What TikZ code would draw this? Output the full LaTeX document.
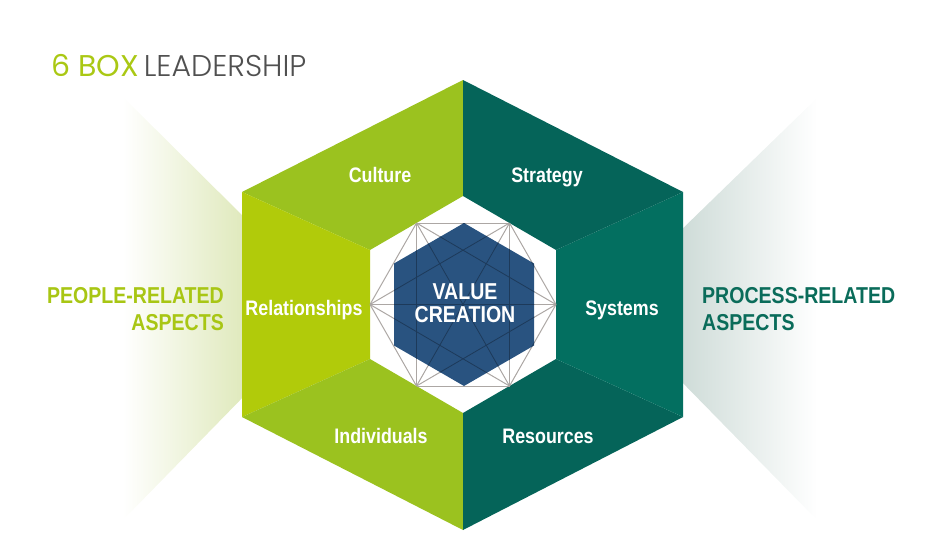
\documentclass[tikz,border=0pt]{standalone}
\usepackage{fontspec}
\usetikzlibrary{calc}
\setmainfont{Liberation Sans}
\newfontfamily\boxfont[FakeStretch=0.85]{Liberation Sans}
\newfontfamily\titlefont{Poppins}
\newfontfamily\titlethin{Poppins Light}

\definecolor{limegreen}{RGB}{155,194,31}
\definecolor{lightlime}{RGB}{177,203,10}
\definecolor{darkteal}{RGB}{5,100,89}
\definecolor{midteal}{RGB}{3,111,96}
\definecolor{valueblue}{RGB}{41,83,128}
\definecolor{webgray}{RGB}{172,167,164}
\definecolor{peoplegreen}{RGB}{168,198,20}
\definecolor{processgreen}{RGB}{10,108,90}
\definecolor{titlegreen}{RGB}{170,200,20}
\definecolor{titlegray}{RGB}{80,80,80}

\tikzset{
  segtext/.style={text=white, inner sep=0pt, font=\boxfont\bfseries\fontsize{21}{21}\selectfont},
  aspecttext/.style={inner sep=0pt, font=\boxfont\bfseries\fontsize{23}{27}\selectfont},
  webline/.style={webgray, line width=1pt}
}

\begin{document}
\begin{tikzpicture}[x=1pt, y=-1pt]
        \useasboundingbox (0,0) rectangle (943,557);

        % title
        \node[anchor=base west, inner sep=0pt] (title) at (51,76)
            {\fontsize{30}{30}\selectfont\titlefont\color{titlegreen}6~BOX\,\titlethin\color{titlegray}LEADERSHIP};

        % fading side wedges
        \shade[left color=white, right color={rgb,255:red,222;green,232;blue,185}]
            (123,97) -- (250,223) -- (250,390) -- (123,520) -- cycle;
        \shade[left color={rgb,255:red,204;green,218;blue,214}, right color=white]
            (675,236) -- (817,98) -- (817,520) -- (675,375) -- cycle;

        % outer and inner hexagon corners
        \coordinate (o1) at (463,80);
        \coordinate (o2) at (242,192);
        \coordinate (o3) at (242,417);
        \coordinate (o4) at (463,530);
        \coordinate (o5) at (683,417);
        \coordinate (o6) at (683,192);
        \coordinate (i1) at (463,196);
        \coordinate (i2) at (370,250);
        \coordinate (i3) at (370,359);
        \coordinate (i4) at (463,413);
        \coordinate (i5) at (556,359);
        \coordinate (i6) at (556,250);

        \foreach \k/\n/\c in {1/2/limegreen, 2/3/lightlime, 3/4/limegreen,
                              4/5/darkteal, 5/6/midteal, 6/1/darkteal} {
            \fill[\c] (o\k) -- (o\n) -- (i\n) -- (i\k) -- cycle;
            \coordinate (w\k) at ($(i\k)!0.5!(i\n)$);
        }

        % web of lines
        \foreach \a in {1,...,5} {
            \pgfmathtruncatemacro\nxt{\a+1}
            \foreach \b in {\nxt,...,6}
                \draw[webline] (w\a) -- (w\b);
        }

        \fill[valueblue] (464,223) -- (394,263.5) -- (394,345.5) -- (464,386)
            -- (534,345.5) -- (534,263.5) -- cycle;
        \begin{scope}
            \clip (464,223) -- (394,263.5) -- (394,345.5) -- (464,386)
                -- (534,345.5) -- (534,263.5) -- cycle;
            \foreach \a in {1,...,5} {
                \pgfmathtruncatemacro\nxt{\a+1}
                \foreach \b in {\nxt,...,6}
                    \draw[valueblue!70!black, line width=0.8pt] (w\a) -- (w\b);
            }
        \end{scope}

        \node[segtext, anchor=base, align=center, font=\boxfont\bfseries\fontsize{23}{23}\selectfont]
            (value) at (465,322) {VALUE\\CREATION};

        \node[segtext, anchor=base] (culture) at (380,182) {Culture};
        \node[segtext, anchor=base] (strategy) at (547,182) {Strategy};
        \node[segtext, anchor=base] (relationships) at (304,315) {Relationships};
        \node[segtext, anchor=base] (systems) at (622,315) {Systems};
        \node[segtext, anchor=base] (individuals) at (381,443) {Individuals};
        \node[segtext, anchor=base] (resources) at (548,443) {Resources};

        \node[aspecttext, anchor=base east, align=right, text=peoplegreen]
            (people) at (224,330) {PEOPLE-RELATED\\ASPECTS};
        \node[aspecttext, anchor=base west, align=left, text=processgreen]
            (process) at (702,330) {PROCESS-RELATED\\ASPECTS};
\end{tikzpicture}
\end{document}
